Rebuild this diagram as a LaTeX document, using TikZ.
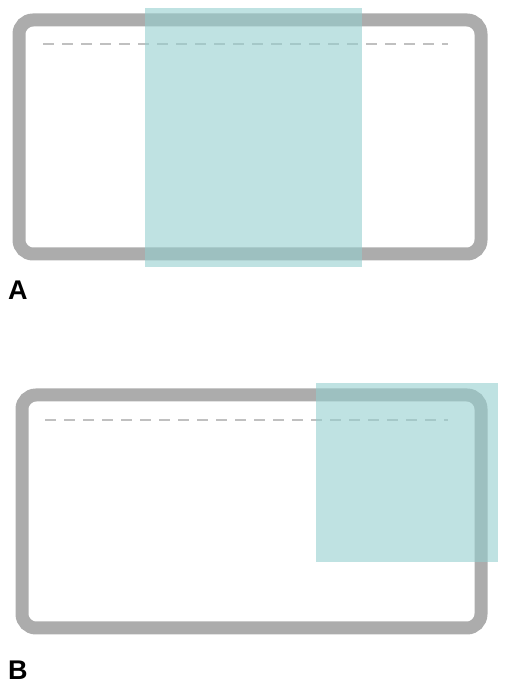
\documentclass[tikz,border=0pt]{standalone}
\usepackage{fontspec}
\setmainfont{Liberation Sans}
\definecolor{frame}{RGB}{172,172,172}
\definecolor{dashc}{RGB}{192,192,192}
\definecolor{tealc}{RGB}{148,206,206}
\begin{document}
\begin{tikzpicture}[x=1pt,y=1pt,
  framebox/.style={draw=frame,line width=13pt,rounded corners=14pt},
  dashline/.style={draw=dashc,line width=2.2pt,dash pattern=on 11pt off 8pt},
  cover/.style={fill=tealc,fill opacity=0.6},
  lbl/.style={font=\fontsize{27}{30}\selectfont\bfseries,anchor=base west,inner sep=0pt}]
\useasboundingbox (0,0) rectangle (525,686);
% Panel A
\draw[framebox] (19,666) rectangle (481,432);
\coordinate (a1) at (43,642);
\coordinate (a2) at (448,642);
\draw[dashline] (a1) -- (a2);
\fill[cover] (145,678) rectangle (362,419);
\node[lbl] (labA) at (8,386) {A};
% Panel B
\draw[framebox] (22,291) rectangle (481,58);
\coordinate (b1) at (45,266);
\coordinate (b2) at (448,266);
\draw[dashline] (b1) -- (b2);
\fill[cover] (316,303) rectangle (498,124);
\node[lbl] (labB) at (8,6) {B};
\end{tikzpicture}
\end{document}
